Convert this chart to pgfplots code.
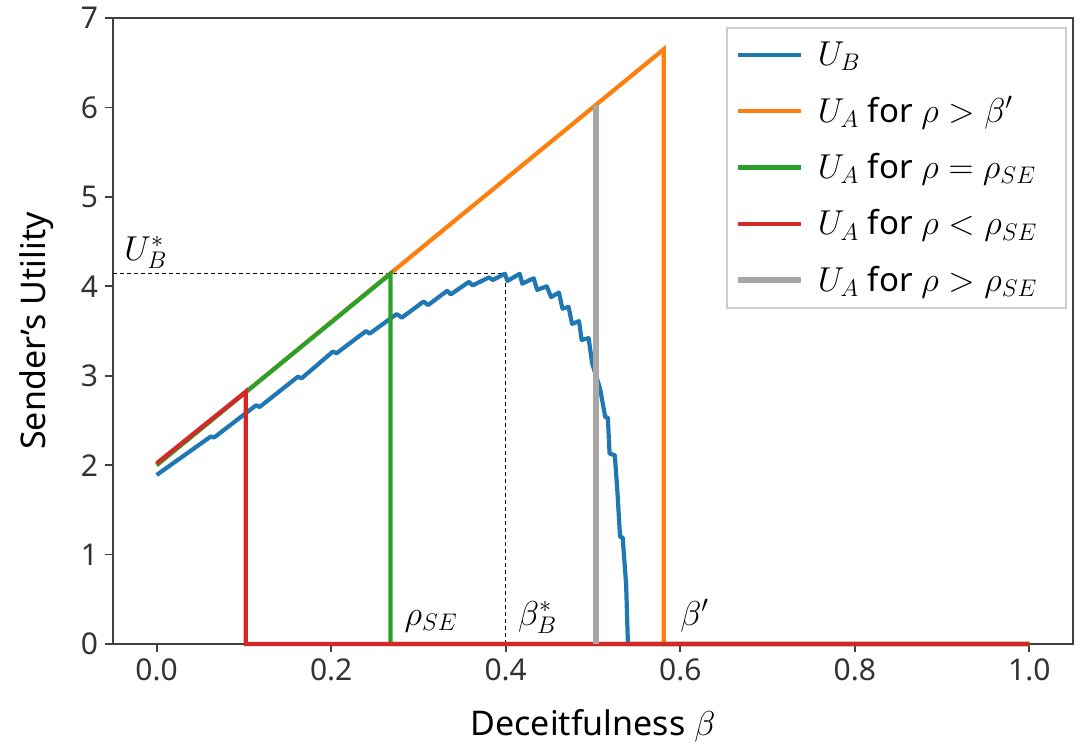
\documentclass[border=0pt]{standalone}
\usepackage{pgfplots}
\pgfplotsset{compat=1.18}
\usepackage{fontspec}
\setmainfont{Noto Sans}

\definecolor{tabblue}{HTML}{1F77B4}
\definecolor{taborange}{HTML}{FF7F0E}
\definecolor{tabgreen}{HTML}{2CA02C}
\definecolor{tabred}{HTML}{D62728}
\definecolor{grayline}{HTML}{A9A6A6}

\begin{document}
\begin{tikzpicture}
\path[use as bounding box] (0,0) rectangle (542pt,372.5pt);
\begin{axis}[
    at={(56.5pt,50.5pt)}, anchor=south west,
    scale only axis, width=480pt, height=313pt,
    xmin=-0.05, xmax=1.05, ymin=0, ymax=7,
    xtick={0,0.2,0.4,0.6,0.8,1.0}, ytick={0,1,2,3,4,5,6,7},
    xticklabels={0.0,0.2,0.4,0.6,0.8,1.0},
    /pgf/number format/assume math mode=true,
    tick align=outside, xtick pos=left, ytick pos=left,
    major tick length=4pt,
    axis line style={black!75, line width=0.9pt},
    every tick/.style={black!75, line width=0.9pt},
    tick label style={font=\fontsize{15}{18}\selectfont, text=black!80},
    xlabel={Deceitfulness $\beta$}, ylabel={Sender’s Utility},
    label style={font=\fontsize{17}{20}\selectfont},
    x label style={at={(axis description cs:0.5,-0.131)}, anchor=center},
    y label style={at={(axis description cs:-0.08,0.5)}, anchor=center},
    clip=false,
    legend style={at={(0.6385,0.9856)}, anchor=north west, draw=black!20,
        line width=0.8pt, fill=white, inner xsep=4pt, inner ysep=5pt,
        row sep=10pt, font=\fontsize{16.5}{19}\selectfont, cells={anchor=west},
        /tikz/every odd column/.append style={column sep=5pt}},
    legend image code/.code={\draw[#1] (0pt,0pt) -- (31.5pt,0pt);},
]
% guide lines for U_B^* and beta_B^*
\addplot[forget plot, black, line width=0.5pt, dash pattern=on 2pt off 1.5pt]
    coordinates {(-0.05,4.14) (0.4,4.14)};
\addplot[forget plot, black, line width=0.5pt, dash pattern=on 2pt off 1.5pt]
    coordinates {(0.4,0) (0.4,4.14)};

% U_B
\addplot[tabblue, line width=2.1pt, line join=round] coordinates {
    (0,1.89) (0.062,2.32) (0.066,2.31) (0.114,2.67) (0.118,2.65)
    (0.162,2.99) (0.166,2.97) (0.202,3.27) (0.206,3.25) (0.240,3.50)
    (0.244,3.47) (0.275,3.69) (0.281,3.65) (0.306,3.83) (0.311,3.79)
    (0.333,3.95) (0.337,3.91) (0.358,4.05) (0.362,4.01) (0.381,4.10)
    (0.385,4.07) (0.399,4.14) (0.402,4.06) (0.416,4.14) (0.419,4.03)
    (0.432,4.09) (0.436,3.96) (0.447,4.00) (0.452,3.88) (0.461,3.93)
    (0.465,3.75) (0.472,3.77) (0.476,3.58) (0.484,3.61) (0.487,3.40)
    (0.495,3.42) (0.499,3.14) (0.508,2.86) (0.514,2.54) (0.517,2.53)
    (0.519,2.13) (0.525,2.11) (0.528,1.70) (0.531,1.20) (0.534,1.19)
    (0.538,0.66) (0.540,0) (1.0,0)
};
\addlegendentry{\makebox[118pt][l]{$U_B$}}

% U_A for rho > beta'
\addplot[taborange, line width=2.1pt] coordinates {
    (0,2.0) (0.581,6.65) (0.581,0) (1.0,0)
};
\addlegendentry{$U_A$ for $\rho > \beta'$}

% U_A for rho = rho_SE
\addplot[tabgreen, line width=2.1pt] coordinates {
    (0,2.0) (0.268,4.14) (0.268,0) (1.0,0)
};
\addlegendentry{$U_A$ for $\rho = \rho_{SE}$}

% U_A for rho < rho_SE
\addplot[tabred, line width=2.1pt] coordinates {
    (0,2.02) (0.102,2.82) (0.102,0) (1.0,0)
};
\addlegendentry{$U_A$ for $\rho < \rho_{SE}$}

% U_A for rho > rho_SE
\addplot[grayline, line width=3pt] coordinates {
    (0.504,0) (0.504,6.03)
};
\addlegendentry{$U_A$ for $\rho > \rho_{SE}$}

\node[anchor=base west, font=\fontsize{17}{20}\selectfont] at (axis cs:-0.045,4.29) {$U_B^*$};
\node[anchor=base west, font=\fontsize{17}{20}\selectfont] at (axis cs:0.276,0.21) {$\rho_{SE}$};
\node[anchor=base west, font=\fontsize{17}{20}\selectfont] at (axis cs:0.406,0.21) {$\beta_B^*$};
\node[anchor=base west, font=\fontsize{17}{20}\selectfont] at (axis cs:0.592,0.21) {$\beta'$};
\end{axis}
\end{tikzpicture}
\end{document}
